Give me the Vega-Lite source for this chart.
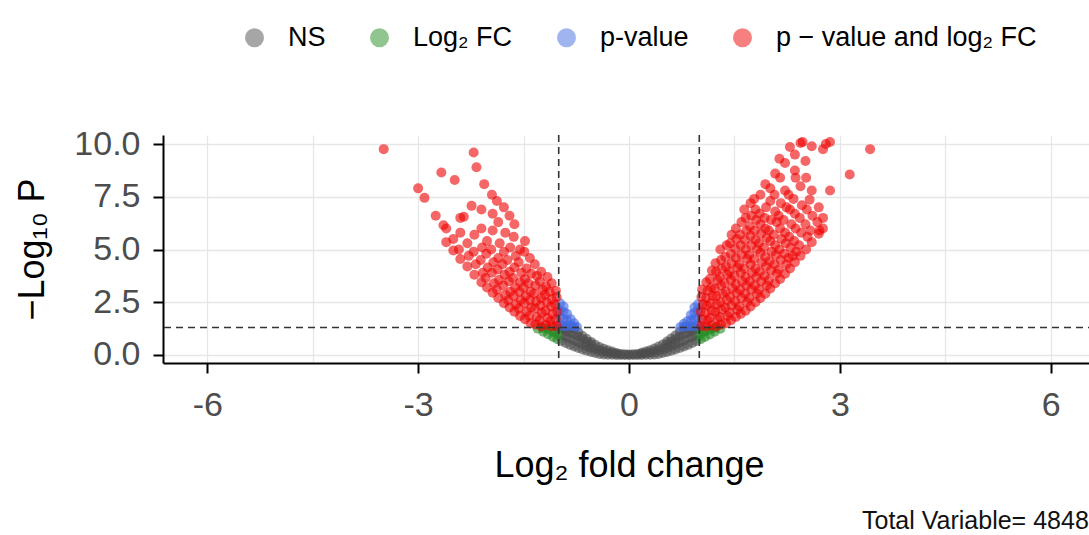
{
  "$schema": "https://vega.github.io/schema/vega-lite/v6.json",
  "width": 932,
  "height": 228,
  "autosize": {"type": "none"},
  "padding": {"left": 163, "top": 135, "right": 0, "bottom": 172},
  "background": "white",
  "config": {
    "font": "Liberation Sans",
    "view": {"stroke": null},
    "axis": {
      "domainColor": "#000000", "domainWidth": 2, "tickColor": "#000000", "tickWidth": 2, "tickSize": 10,
      "labelFontSize": 34, "labelColor": "#4d4d4d", "titleFontSize": 36, "titleFontWeight": "normal", "titleColor": "#000000",
      "gridColor": "#e6e6e6", "gridWidth": 1.3, "labelOverlap": false, "labelFlush": false
    },
    "legend": {"labelFontSize": 27, "labelColor": "#000000", "labelLimit": 500},
    "title": {"fontSize": 25, "fontWeight": "normal", "color": "#111111"}
  },
  "title": {"text": "Total Variable= 4848", "orient": "bottom", "anchor": "end", "offset": 26, "dx": -7},
  "layer": [
    {
      "data": {"values": [
{"x":-0.96,"y":0.66,"g":"NS"},{"x":-0.96,"y":0.95,"g":"NS"},{"x":-0.96,"y":1.25,"g":"NS"},
{"x":-0.9,"y":0.57,"g":"NS"},{"x":-0.9,"y":0.85,"g":"NS"},{"x":-0.9,"y":1.12,"g":"NS"},{"x":-0.9,"y":1.27,"g":"NS"},
{"x":-0.84,"y":0.48,"g":"NS"},{"x":-0.84,"y":0.78,"g":"NS"},{"x":-0.84,"y":1.05,"g":"NS"},{"x":-0.84,"y":1.26,"g":"NS"},
{"x":-0.78,"y":0.4,"g":"NS"},{"x":-0.78,"y":0.7,"g":"NS"},{"x":-0.78,"y":0.98,"g":"NS"},{"x":-0.78,"y":1.24,"g":"NS"},
{"x":-0.72,"y":0.33,"g":"NS"},{"x":-0.72,"y":0.6,"g":"NS"},{"x":-0.72,"y":0.88,"g":"NS"},{"x":-0.72,"y":1.08,"g":"NS"},
{"x":-0.66,"y":0.26,"g":"NS"},{"x":-0.66,"y":0.5,"g":"NS"},{"x":-0.66,"y":0.75,"g":"NS"},{"x":-0.66,"y":0.9,"g":"NS"},
{"x":-0.6,"y":0.2,"g":"NS"},{"x":-0.6,"y":0.42,"g":"NS"},{"x":-0.6,"y":0.62,"g":"NS"},{"x":-0.6,"y":0.76,"g":"NS"},
{"x":-0.54,"y":0.14,"g":"NS"},{"x":-0.54,"y":0.34,"g":"NS"},{"x":-0.54,"y":0.52,"g":"NS"},{"x":-0.54,"y":0.62,"g":"NS"},
{"x":-0.48,"y":0.09,"g":"NS"},{"x":-0.48,"y":0.28,"g":"NS"},{"x":-0.48,"y":0.48,"g":"NS"},
{"x":-0.42,"y":0.05,"g":"NS"},{"x":-0.42,"y":0.22,"g":"NS"},{"x":-0.42,"y":0.38,"g":"NS"},
{"x":-0.36,"y":0.02,"g":"NS"},{"x":-0.36,"y":0.16,"g":"NS"},{"x":-0.36,"y":0.3,"g":"NS"},
{"x":-0.3,"y":0.01,"g":"NS"},{"x":-0.3,"y":0.12,"g":"NS"},{"x":-0.3,"y":0.22,"g":"NS"},
{"x":-0.24,"y":0.01,"g":"NS"},{"x":-0.24,"y":0.09,"g":"NS"},{"x":-0.24,"y":0.16,"g":"NS"},
{"x":-0.18,"y":0.0,"g":"NS"},{"x":-0.18,"y":0.06,"g":"NS"},{"x":-0.18,"y":0.1,"g":"NS"},
{"x":-0.12,"y":0.0,"g":"NS"},{"x":-0.12,"y":0.05,"g":"NS"},
{"x":-0.06,"y":0.0,"g":"NS"},{"x":-0.06,"y":0.04,"g":"NS"},
{"x":0.0,"y":0.0,"g":"NS"},{"x":0.0,"y":0.02,"g":"NS"},
{"x":0.06,"y":0.0,"g":"NS"},{"x":0.06,"y":0.04,"g":"NS"},
{"x":0.12,"y":0.0,"g":"NS"},{"x":0.12,"y":0.05,"g":"NS"},
{"x":0.18,"y":0.0,"g":"NS"},{"x":0.18,"y":0.06,"g":"NS"},{"x":0.18,"y":0.11,"g":"NS"},
{"x":0.24,"y":0.01,"g":"NS"},{"x":0.24,"y":0.09,"g":"NS"},{"x":0.24,"y":0.17,"g":"NS"},
{"x":0.3,"y":0.01,"g":"NS"},{"x":0.3,"y":0.12,"g":"NS"},{"x":0.3,"y":0.23,"g":"NS"},
{"x":0.36,"y":0.02,"g":"NS"},{"x":0.36,"y":0.17,"g":"NS"},{"x":0.36,"y":0.31,"g":"NS"},
{"x":0.42,"y":0.05,"g":"NS"},{"x":0.42,"y":0.23,"g":"NS"},{"x":0.42,"y":0.4,"g":"NS"},
{"x":0.48,"y":0.09,"g":"NS"},{"x":0.48,"y":0.29,"g":"NS"},{"x":0.48,"y":0.5,"g":"NS"},
{"x":0.54,"y":0.14,"g":"NS"},{"x":0.54,"y":0.35,"g":"NS"},{"x":0.54,"y":0.53,"g":"NS"},{"x":0.54,"y":0.64,"g":"NS"},
{"x":0.6,"y":0.2,"g":"NS"},{"x":0.6,"y":0.43,"g":"NS"},{"x":0.6,"y":0.63,"g":"NS"},{"x":0.6,"y":0.78,"g":"NS"},
{"x":0.66,"y":0.26,"g":"NS"},{"x":0.66,"y":0.51,"g":"NS"},{"x":0.66,"y":0.74,"g":"NS"},{"x":0.66,"y":0.92,"g":"NS"},
{"x":0.72,"y":0.33,"g":"NS"},{"x":0.72,"y":0.61,"g":"NS"},{"x":0.72,"y":0.87,"g":"NS"},{"x":0.72,"y":1.1,"g":"NS"},
{"x":0.78,"y":0.4,"g":"NS"},{"x":0.78,"y":0.7,"g":"NS"},{"x":0.78,"y":0.99,"g":"NS"},{"x":0.78,"y":1.25,"g":"NS"},
{"x":0.84,"y":0.48,"g":"NS"},{"x":0.84,"y":0.79,"g":"NS"},{"x":0.84,"y":1.06,"g":"NS"},{"x":0.84,"y":1.27,"g":"NS"},
{"x":0.9,"y":0.57,"g":"NS"},{"x":0.9,"y":0.86,"g":"NS"},{"x":0.9,"y":1.13,"g":"NS"},{"x":0.9,"y":1.28,"g":"NS"},
{"x":0.96,"y":0.66,"g":"NS"},{"x":0.96,"y":0.96,"g":"NS"},{"x":0.96,"y":1.24,"g":"NS"},
{"x":-1.02,"y":0.75,"g":"FC"},{"x":-1.02,"y":1.0,"g":"FC"},{"x":-1.02,"y":1.25,"g":"FC"},
{"x":-1.08,"y":0.85,"g":"FC"},{"x":-1.08,"y":1.1,"g":"FC"},
{"x":-1.15,"y":0.98,"g":"FC"},{"x":-1.15,"y":1.22,"g":"FC"},
{"x":-1.22,"y":1.1,"g":"FC"},{"x":-1.22,"y":1.28,"g":"FC"},
{"x":-1.3,"y":1.25,"g":"FC"},
{"x":1.02,"y":0.75,"g":"FC"},{"x":1.02,"y":1.0,"g":"FC"},{"x":1.02,"y":1.25,"g":"FC"},
{"x":1.08,"y":0.85,"g":"FC"},{"x":1.08,"y":1.12,"g":"FC"},
{"x":1.15,"y":0.97,"g":"FC"},{"x":1.15,"y":1.2,"g":"FC"},
{"x":1.22,"y":1.1,"g":"FC"},{"x":1.22,"y":1.28,"g":"FC"},
{"x":1.3,"y":1.24,"g":"FC"},
{"x":-0.98,"y":1.4,"g":"P"},{"x":-0.98,"y":1.75,"g":"P"},{"x":-0.98,"y":2.1,"g":"P"},{"x":-0.98,"y":2.45,"g":"P"},
{"x":-0.93,"y":1.38,"g":"P"},{"x":-0.93,"y":1.7,"g":"P"},{"x":-0.93,"y":2.05,"g":"P"},{"x":-0.93,"y":2.3,"g":"P"},
{"x":-0.88,"y":1.35,"g":"P"},{"x":-0.88,"y":1.65,"g":"P"},{"x":-0.88,"y":1.95,"g":"P"},
{"x":-0.83,"y":1.4,"g":"P"},{"x":-0.83,"y":1.7,"g":"P"},
{"x":-0.78,"y":1.35,"g":"P"},{"x":-0.78,"y":1.5,"g":"P"},
{"x":-0.74,"y":1.33,"g":"P"},
{"x":0.98,"y":1.4,"g":"P"},{"x":0.98,"y":1.75,"g":"P"},{"x":0.98,"y":2.1,"g":"P"},{"x":0.98,"y":2.4,"g":"P"},
{"x":0.93,"y":1.35,"g":"P"},{"x":0.93,"y":1.7,"g":"P"},{"x":0.93,"y":2.0,"g":"P"},{"x":0.93,"y":2.25,"g":"P"},
{"x":0.88,"y":1.38,"g":"P"},{"x":0.88,"y":1.65,"g":"P"},{"x":0.88,"y":1.9,"g":"P"},
{"x":0.83,"y":1.35,"g":"P"},{"x":0.83,"y":1.6,"g":"P"},
{"x":0.78,"y":1.34,"g":"P"},{"x":0.78,"y":1.48,"g":"P"},
{"x":0.73,"y":1.32,"g":"P"},
{"x":-1.03,"y":1.38,"g":"B"},{"x":-1.04,"y":1.7,"g":"B"},{"x":-1.02,"y":2.05,"g":"B"},{"x":-1.05,"y":2.4,"g":"B"},{"x":-1.03,"y":2.75,"g":"B"},{"x":-1.04,"y":3.05,"g":"B"},
{"x":-1.1,"y":1.35,"g":"B"},{"x":-1.12,"y":1.6,"g":"B"},{"x":-1.09,"y":1.95,"g":"B"},{"x":-1.11,"y":2.3,"g":"B"},{"x":-1.1,"y":2.65,"g":"B"},{"x":-1.13,"y":3.0,"g":"B"},{"x":-1.1,"y":3.4,"g":"B"},
{"x":-1.18,"y":1.42,"g":"B"},{"x":-1.16,"y":1.75,"g":"B"},{"x":-1.19,"y":2.1,"g":"B"},{"x":-1.17,"y":2.5,"g":"B"},{"x":-1.2,"y":2.85,"g":"B"},{"x":-1.18,"y":3.25,"g":"B"},{"x":-1.16,"y":3.7,"g":"B"},
{"x":-1.25,"y":1.35,"g":"B"},{"x":-1.27,"y":1.65,"g":"B"},{"x":-1.24,"y":2.0,"g":"B"},{"x":-1.26,"y":2.35,"g":"B"},{"x":-1.25,"y":2.7,"g":"B"},{"x":-1.23,"y":3.1,"g":"B"},{"x":-1.27,"y":3.5,"g":"B"},{"x":-1.25,"y":3.95,"g":"B"},
{"x":-1.33,"y":1.45,"g":"B"},{"x":-1.31,"y":1.8,"g":"B"},{"x":-1.34,"y":2.2,"g":"B"},{"x":-1.32,"y":2.55,"g":"B"},{"x":-1.35,"y":2.9,"g":"B"},{"x":-1.33,"y":3.3,"g":"B"},{"x":-1.31,"y":3.75,"g":"B"},{"x":-1.34,"y":4.3,"g":"B"},
{"x":-1.4,"y":1.5,"g":"B"},{"x":-1.42,"y":1.85,"g":"B"},{"x":-1.39,"y":2.25,"g":"B"},{"x":-1.41,"y":2.6,"g":"B"},{"x":-1.4,"y":3.0,"g":"B"},{"x":-1.43,"y":3.4,"g":"B"},{"x":-1.39,"y":3.85,"g":"B"},{"x":-1.41,"y":4.6,"g":"B"},
{"x":-1.48,"y":1.7,"g":"B"},{"x":-1.46,"y":2.05,"g":"B"},{"x":-1.49,"y":2.45,"g":"B"},{"x":-1.47,"y":2.8,"g":"B"},{"x":-1.5,"y":3.2,"g":"B"},{"x":-1.48,"y":3.6,"g":"B"},{"x":-1.46,"y":4.1,"g":"B"},{"x":-1.49,"y":4.9,"g":"B"},{"x":-1.48,"y":5.4,"g":"B"},
{"x":-1.55,"y":1.85,"g":"B"},{"x":-1.57,"y":2.2,"g":"B"},{"x":-1.54,"y":2.6,"g":"B"},{"x":-1.56,"y":3.0,"g":"B"},{"x":-1.55,"y":3.45,"g":"B"},{"x":-1.53,"y":3.9,"g":"B"},{"x":-1.57,"y":4.4,"g":"B"},{"x":-1.55,"y":5.0,"g":"B"},
{"x":-1.63,"y":2.05,"g":"B"},{"x":-1.61,"y":2.4,"g":"B"},{"x":-1.64,"y":2.8,"g":"B"},{"x":-1.62,"y":3.2,"g":"B"},{"x":-1.65,"y":3.65,"g":"B"},{"x":-1.63,"y":4.15,"g":"B"},{"x":-1.61,"y":4.7,"g":"B"},{"x":-1.64,"y":5.6,"g":"B"},{"x":-1.63,"y":6.2,"g":"B"},
{"x":-1.7,"y":2.25,"g":"B"},{"x":-1.72,"y":2.6,"g":"B"},{"x":-1.69,"y":3.0,"g":"B"},{"x":-1.71,"y":3.5,"g":"B"},{"x":-1.7,"y":3.95,"g":"B"},{"x":-1.73,"y":4.5,"g":"B"},{"x":-1.69,"y":5.1,"g":"B"},{"x":-1.7,"y":6.6,"g":"B"},
{"x":-1.78,"y":2.45,"g":"B"},{"x":-1.76,"y":2.85,"g":"B"},{"x":-1.79,"y":3.3,"g":"B"},{"x":-1.77,"y":3.8,"g":"B"},{"x":-1.8,"y":4.3,"g":"B"},{"x":-1.78,"y":4.9,"g":"B"},{"x":-1.76,"y":5.8,"g":"B"},{"x":-1.78,"y":7.0,"g":"B"},
{"x":-1.86,"y":2.7,"g":"B"},{"x":-1.88,"y":3.1,"g":"B"},{"x":-1.85,"y":3.55,"g":"B"},{"x":-1.87,"y":4.05,"g":"B"},{"x":-1.86,"y":4.6,"g":"B"},{"x":-1.84,"y":5.3,"g":"B"},{"x":-1.86,"y":6.3,"g":"B"},
{"x":-1.94,"y":2.95,"g":"B"},{"x":-1.92,"y":3.4,"g":"B"},{"x":-1.95,"y":3.9,"g":"B"},{"x":-1.93,"y":4.4,"g":"B"},{"x":-1.96,"y":5.0,"g":"B"},{"x":-1.94,"y":5.9,"g":"B"},{"x":-1.94,"y":6.7,"g":"B"},
{"x":-2.02,"y":3.2,"g":"B"},{"x":-2.04,"y":3.65,"g":"B"},{"x":-2.01,"y":4.15,"g":"B"},{"x":-2.03,"y":4.8,"g":"B"},{"x":-2.02,"y":5.4,"g":"B"},
{"x":-2.1,"y":3.45,"g":"B"},{"x":-2.08,"y":3.9,"g":"B"},{"x":-2.11,"y":4.5,"g":"B"},{"x":-2.09,"y":5.1,"g":"B"},{"x":-2.1,"y":6.0,"g":"B"},{"x":-2.1,"y":6.9,"g":"B"},
{"x":-2.2,"y":3.8,"g":"B"},{"x":-2.18,"y":4.3,"g":"B"},{"x":-2.21,"y":4.9,"g":"B"},{"x":-2.2,"y":5.7,"g":"B"},
{"x":-2.3,"y":4.2,"g":"B"},{"x":-2.28,"y":4.7,"g":"B"},{"x":-2.3,"y":5.3,"g":"B"},
{"x":-2.4,"y":4.55,"g":"B"},{"x":-2.42,"y":5.0,"g":"B"},{"x":-2.4,"y":5.8,"g":"B"},{"x":-2.4,"y":6.5,"g":"B"},
{"x":-2.5,"y":4.95,"g":"B"},{"x":-2.5,"y":5.5,"g":"B"},
{"x":-2.6,"y":5.35,"g":"B"},{"x":-2.6,"y":6.0,"g":"B"},
{"x":-2.06,"y":8.1,"g":"B"},{"x":-2.21,"y":9.6,"g":"B"},{"x":-2.17,"y":8.9,"g":"B"},{"x":-2.67,"y":8.65,"g":"B"},{"x":-2.48,"y":8.3,"g":"B"},{"x":-3.0,"y":7.9,"g":"B"},{"x":-2.91,"y":7.45,"g":"B"},{"x":-2.64,"y":6.15,"g":"B"},{"x":-3.49,"y":9.76,"g":"B"},{"x":-2.24,"y":7.07,"g":"B"},{"x":-2.35,"y":6.55,"g":"B"},{"x":-1.95,"y":7.6,"g":"B"},{"x":-1.88,"y":7.3,"g":"B"},{"x":-2.75,"y":6.6,"g":"B"},
{"x":1.03,"y":1.38,"g":"B"},{"x":1.04,"y":1.7,"g":"B"},{"x":1.02,"y":2.05,"g":"B"},{"x":1.05,"y":2.4,"g":"B"},{"x":1.03,"y":2.75,"g":"B"},{"x":1.04,"y":3.1,"g":"B"},
{"x":1.1,"y":1.35,"g":"B"},{"x":1.12,"y":1.65,"g":"B"},{"x":1.09,"y":2.0,"g":"B"},{"x":1.11,"y":2.35,"g":"B"},{"x":1.1,"y":2.7,"g":"B"},{"x":1.12,"y":3.05,"g":"B"},{"x":1.1,"y":3.45,"g":"B"},
{"x":1.17,"y":1.4,"g":"B"},{"x":1.15,"y":1.75,"g":"B"},{"x":1.18,"y":2.1,"g":"B"},{"x":1.16,"y":2.45,"g":"B"},{"x":1.19,"y":2.8,"g":"B"},{"x":1.17,"y":3.2,"g":"B"},{"x":1.15,"y":3.6,"g":"B"},{"x":1.18,"y":4.0,"g":"B"},
{"x":1.24,"y":1.35,"g":"B"},{"x":1.26,"y":1.7,"g":"B"},{"x":1.23,"y":2.05,"g":"B"},{"x":1.25,"y":2.4,"g":"B"},{"x":1.24,"y":2.8,"g":"B"},{"x":1.22,"y":3.15,"g":"B"},{"x":1.26,"y":3.55,"g":"B"},{"x":1.24,"y":3.95,"g":"B"},{"x":1.23,"y":4.35,"g":"B"},
{"x":1.31,"y":1.45,"g":"B"},{"x":1.29,"y":1.8,"g":"B"},{"x":1.32,"y":2.15,"g":"B"},{"x":1.3,"y":2.5,"g":"B"},{"x":1.33,"y":2.9,"g":"B"},{"x":1.31,"y":3.3,"g":"B"},{"x":1.29,"y":3.7,"g":"B"},{"x":1.32,"y":4.1,"g":"B"},{"x":1.31,"y":4.5,"g":"B"},{"x":1.3,"y":5.0,"g":"B"},
{"x":1.38,"y":1.5,"g":"B"},{"x":1.4,"y":1.85,"g":"B"},{"x":1.37,"y":2.25,"g":"B"},{"x":1.39,"y":2.6,"g":"B"},{"x":1.38,"y":3.0,"g":"B"},{"x":1.36,"y":3.4,"g":"B"},{"x":1.4,"y":3.8,"g":"B"},{"x":1.38,"y":4.2,"g":"B"},{"x":1.37,"y":4.65,"g":"B"},{"x":1.39,"y":5.2,"g":"B"},
{"x":1.45,"y":1.65,"g":"B"},{"x":1.43,"y":2.0,"g":"B"},{"x":1.46,"y":2.35,"g":"B"},{"x":1.44,"y":2.75,"g":"B"},{"x":1.47,"y":3.15,"g":"B"},{"x":1.45,"y":3.55,"g":"B"},{"x":1.43,"y":3.95,"g":"B"},{"x":1.46,"y":4.35,"g":"B"},{"x":1.45,"y":4.8,"g":"B"},{"x":1.44,"y":5.3,"g":"B"},{"x":1.46,"y":5.7,"g":"B"},
{"x":1.52,"y":1.8,"g":"B"},{"x":1.54,"y":2.15,"g":"B"},{"x":1.51,"y":2.55,"g":"B"},{"x":1.53,"y":2.95,"g":"B"},{"x":1.52,"y":3.35,"g":"B"},{"x":1.5,"y":3.75,"g":"B"},{"x":1.54,"y":4.15,"g":"B"},{"x":1.52,"y":4.6,"g":"B"},{"x":1.51,"y":5.05,"g":"B"},{"x":1.53,"y":5.5,"g":"B"},{"x":1.52,"y":6.0,"g":"B"},
{"x":1.59,"y":1.95,"g":"B"},{"x":1.57,"y":2.3,"g":"B"},{"x":1.6,"y":2.7,"g":"B"},{"x":1.58,"y":3.1,"g":"B"},{"x":1.61,"y":3.5,"g":"B"},{"x":1.59,"y":3.9,"g":"B"},{"x":1.57,"y":4.3,"g":"B"},{"x":1.6,"y":4.75,"g":"B"},{"x":1.59,"y":5.2,"g":"B"},{"x":1.58,"y":5.7,"g":"B"},{"x":1.6,"y":6.3,"g":"B"},
{"x":1.66,"y":2.1,"g":"B"},{"x":1.68,"y":2.5,"g":"B"},{"x":1.65,"y":2.9,"g":"B"},{"x":1.67,"y":3.3,"g":"B"},{"x":1.66,"y":3.7,"g":"B"},{"x":1.64,"y":4.1,"g":"B"},{"x":1.68,"y":4.55,"g":"B"},{"x":1.66,"y":5.0,"g":"B"},{"x":1.65,"y":5.45,"g":"B"},{"x":1.67,"y":5.9,"g":"B"},{"x":1.66,"y":6.5,"g":"B"},{"x":1.64,"y":6.9,"g":"B"},
{"x":1.73,"y":2.3,"g":"B"},{"x":1.71,"y":2.7,"g":"B"},{"x":1.74,"y":3.1,"g":"B"},{"x":1.72,"y":3.5,"g":"B"},{"x":1.75,"y":3.9,"g":"B"},{"x":1.73,"y":4.3,"g":"B"},{"x":1.71,"y":4.75,"g":"B"},{"x":1.74,"y":5.2,"g":"B"},{"x":1.73,"y":5.65,"g":"B"},{"x":1.72,"y":6.1,"g":"B"},{"x":1.74,"y":6.6,"g":"B"},{"x":1.73,"y":7.2,"g":"B"},
{"x":1.8,"y":2.5,"g":"B"},{"x":1.82,"y":2.9,"g":"B"},{"x":1.79,"y":3.3,"g":"B"},{"x":1.81,"y":3.7,"g":"B"},{"x":1.8,"y":4.1,"g":"B"},{"x":1.78,"y":4.55,"g":"B"},{"x":1.82,"y":5.0,"g":"B"},{"x":1.8,"y":5.45,"g":"B"},{"x":1.79,"y":5.9,"g":"B"},{"x":1.81,"y":6.4,"g":"B"},{"x":1.8,"y":6.9,"g":"B"},{"x":1.78,"y":7.4,"g":"B"},
{"x":1.87,"y":2.7,"g":"B"},{"x":1.85,"y":3.1,"g":"B"},{"x":1.88,"y":3.5,"g":"B"},{"x":1.86,"y":3.95,"g":"B"},{"x":1.89,"y":4.4,"g":"B"},{"x":1.87,"y":4.85,"g":"B"},{"x":1.85,"y":5.3,"g":"B"},{"x":1.88,"y":5.75,"g":"B"},{"x":1.87,"y":6.2,"g":"B"},{"x":1.86,"y":6.7,"g":"B"},{"x":1.87,"y":7.6,"g":"B"},
{"x":1.94,"y":2.9,"g":"B"},{"x":1.96,"y":3.3,"g":"B"},{"x":1.93,"y":3.75,"g":"B"},{"x":1.95,"y":4.2,"g":"B"},{"x":1.94,"y":4.65,"g":"B"},{"x":1.92,"y":5.1,"g":"B"},{"x":1.96,"y":5.55,"g":"B"},{"x":1.94,"y":6.0,"g":"B"},{"x":1.93,"y":6.5,"g":"B"},{"x":1.95,"y":7.0,"g":"B"},{"x":1.94,"y":8.1,"g":"B"},
{"x":2.01,"y":3.15,"g":"B"},{"x":1.99,"y":3.55,"g":"B"},{"x":2.02,"y":4.0,"g":"B"},{"x":2.0,"y":4.45,"g":"B"},{"x":2.03,"y":4.9,"g":"B"},{"x":2.01,"y":5.4,"g":"B"},{"x":1.99,"y":5.9,"g":"B"},{"x":2.02,"y":6.4,"g":"B"},{"x":2.01,"y":7.3,"g":"B"},{"x":2.01,"y":7.9,"g":"B"},
{"x":2.08,"y":3.4,"g":"B"},{"x":2.1,"y":3.85,"g":"B"},{"x":2.07,"y":4.3,"g":"B"},{"x":2.09,"y":4.75,"g":"B"},{"x":2.08,"y":5.2,"g":"B"},{"x":2.06,"y":5.7,"g":"B"},{"x":2.1,"y":6.3,"g":"B"},{"x":2.08,"y":6.8,"g":"B"},{"x":2.07,"y":7.6,"g":"B"},{"x":2.08,"y":8.6,"g":"B"},
{"x":2.15,"y":3.6,"g":"B"},{"x":2.13,"y":4.05,"g":"B"},{"x":2.16,"y":4.5,"g":"B"},{"x":2.14,"y":5.0,"g":"B"},{"x":2.17,"y":5.5,"g":"B"},{"x":2.15,"y":6.0,"g":"B"},{"x":2.13,"y":6.6,"g":"B"},{"x":2.16,"y":7.2,"g":"B"},{"x":2.15,"y":8.4,"g":"B"},
{"x":2.22,"y":3.85,"g":"B"},{"x":2.24,"y":4.3,"g":"B"},{"x":2.21,"y":4.8,"g":"B"},{"x":2.23,"y":5.3,"g":"B"},{"x":2.22,"y":5.8,"g":"B"},{"x":2.2,"y":6.4,"g":"B"},{"x":2.24,"y":7.0,"g":"B"},{"x":2.22,"y":7.8,"g":"B"},{"x":2.22,"y":9.1,"g":"B"},
{"x":2.29,"y":4.1,"g":"B"},{"x":2.27,"y":4.6,"g":"B"},{"x":2.3,"y":5.1,"g":"B"},{"x":2.28,"y":5.6,"g":"B"},{"x":2.31,"y":6.2,"g":"B"},{"x":2.29,"y":6.9,"g":"B"},{"x":2.27,"y":7.6,"g":"B"},{"x":2.29,"y":9.86,"g":"B"},
{"x":2.36,"y":4.4,"g":"B"},{"x":2.38,"y":4.9,"g":"B"},{"x":2.35,"y":5.4,"g":"B"},{"x":2.37,"y":6.0,"g":"B"},{"x":2.36,"y":6.7,"g":"B"},{"x":2.34,"y":7.4,"g":"B"},{"x":2.36,"y":8.75,"g":"B"},{"x":2.36,"y":9.5,"g":"B"},
{"x":2.44,"y":4.7,"g":"B"},{"x":2.42,"y":5.2,"g":"B"},{"x":2.45,"y":5.8,"g":"B"},{"x":2.43,"y":6.5,"g":"B"},{"x":2.46,"y":7.1,"g":"B"},{"x":2.44,"y":8.0,"g":"B"},{"x":2.44,"y":10.05,"g":"B"},
{"x":2.52,"y":5.0,"g":"B"},{"x":2.54,"y":5.6,"g":"B"},{"x":2.51,"y":6.2,"g":"B"},{"x":2.53,"y":6.9,"g":"B"},{"x":2.57,"y":7.36,"g":"B"},{"x":2.52,"y":8.4,"g":"B"},
{"x":2.6,"y":5.35,"g":"B"},{"x":2.58,"y":5.9,"g":"B"},{"x":2.61,"y":6.6,"g":"B"},{"x":2.6,"y":7.8,"g":"B"},{"x":2.6,"y":9.9,"g":"B"},
{"x":2.7,"y":5.75,"g":"B"},{"x":2.68,"y":6.3,"g":"B"},{"x":2.7,"y":7.0,"g":"B"},
{"x":2.76,"y":6.0,"g":"B"},{"x":2.76,"y":6.5,"g":"B"},{"x":2.76,"y":9.76,"g":"B"},
{"x":2.86,"y":7.8,"g":"B"},{"x":2.86,"y":10.1,"g":"B"},{"x":3.14,"y":8.56,"g":"B"},{"x":3.43,"y":9.76,"g":"B"},
{"x":2.47,"y":10.1,"g":"B"},{"x":2.37,"y":8.4,"g":"B"},{"x":2.14,"y":9.3,"g":"B"},{"x":2.51,"y":9.2,"g":"B"},{"x":2.8,"y":10.0,"g":"B"},{"x":2.71,"y":5.9,"g":"B"},{"x":2.33,"y":4.7,"g":"B"}
      ]},
      "mark": {"type": "point", "filled": true, "size": 100, "opacity": 0.6},
      "encoding": {
        "x": {"field": "x", "type": "quantitative", "title": "Log₂ fold change",
              "scale": {"domain": [-6.63, 6.63], "nice": false, "zero": false},
              "axis": {"values": [-6, -4.5, -3, -1.5, 0, 1.5, 3, 4.5, 6],
                       "labelExpr": "datum.value % 3 == 0 ? '' + datum.value : ''",
                       "tickOpacity": {"condition": {"test": "datum.value % 3 != 0", "value": 0}, "value": 1},
                       "labelPadding": 15, "titlePadding": 26}},
        "y": {"field": "y", "type": "quantitative", "title": "−Log₁₀ P",
              "scale": {"domain": [-0.38, 10.43], "nice": false, "zero": false},
              "axis": {"values": [0, 1.25, 2.5, 3.75, 5, 6.25, 7.5, 8.75, 10],
                       "labelExpr": "abs(datum.value % 2.5) < 0.001 ? format(datum.value, '.1f') : ''",
                       "tickOpacity": {"condition": {"test": "abs(datum.value % 2.5) > 0.001", "value": 0}, "value": 1},
                       "labelPadding": 13, "titlePadding": 22}},
        "color": {"field": "g", "type": "nominal",
                  "scale": {"domain": ["NS", "FC", "P", "B"], "range": ["#4d4d4d", "#228b22", "#4169e1", "#ee0000"]},
                  "legend": {"title": null, "orient": "none", "direction": "horizontal", "legendX": 78, "legendY": -111,
                             "symbolSize": 360, "symbolOpacity": 0.5, "symbolType": "circle", "symbolStrokeWidth": 0,
                             "labelOffset": 20, "columnPadding": 40, "padding": 0, "labelLimit": 500,
                             "labelExpr": "datum.label == 'FC' ? 'Log₂ FC' : datum.label == 'P' ? 'p-value' : datum.label == 'B' ? 'p − value and log₂ FC' : 'NS'"}}
      }
    },
    {
      "data": {"values": [{"x": -1}, {"x": 1}]},
      "mark": {"type": "rule", "strokeDash": [7, 5], "strokeWidth": 1.6, "color": "#333333"},
      "encoding": {"x": {"field": "x", "type": "quantitative", "title": "Log₂ fold change"}}
    },
    {
      "data": {"values": [{"y": 1.301}]},
      "mark": {"type": "rule", "strokeDash": [7, 5], "strokeWidth": 1.6, "color": "#333333"},
      "encoding": {"y": {"field": "y", "type": "quantitative", "title": "−Log₁₀ P"}}
    }
  ]
}
